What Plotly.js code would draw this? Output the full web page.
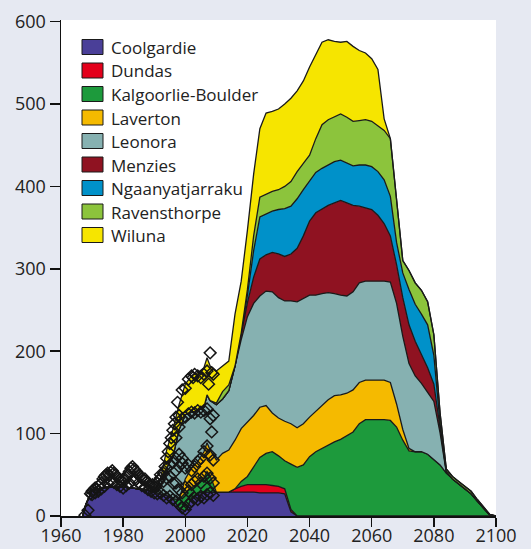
<!DOCTYPE html>
<html>
<head>
<meta charset="utf-8">
<script src="https://cdn.plot.ly/plotly-3.0.1.min.js"></script>
<style>html,body{margin:0;padding:0;background:#e6e9f2;}#chart{width:531px;height:549px;}</style>
</head>
<body>
<div id="chart"></div>
<script>
// ---- data ----
var years = [1967,1968,1970,1972,1975,1978,1980,1983,1985,1988,
  1990,1992,1994,1996,1998,2000,2002,2004,2006,2007,
  2008,2010,2012,2014,2016,2018,2020,2022,2024,2026,
  2028,2030,2032,2034,2036,2038,2040,2042,2044,2046,
  2048,2050,2052,2054,2056,2058,2060,2062,2064,2066,
  2068,2070,2072,2074,2076,2078,2080,2082,2084,2086,
  2088,2090,2092,2094,2096,2098,2100];

var names = ["Coolgardie","Dundas","Kalgoorlie-Boulder","Laverton","Leonora","Menzies","Ngaanyatjarraku","Ravensthorpe","Wiluna"];
var colors = ["#4a3f98","#e3001b","#1d9a3c","#f5ba00","#86b1b1","#8f1221","#0091c9","#8cc43c","#f6e500"];

var coolgardie = [0,14,31,33,35,36,35,34,33,31,
  29,27,25,21,10,6,22,28,29,29,
  29,29,29,29,29,29,29,29,28,28,
  28,28,27,5,0,0,0,0,0,0,
  0,0,0,0,0,0,0,0,0,0,
  0,0,0,0,0,0,0,0,0,0,
  0,0,0,0,0,0,0];
var dundas = [0,0,0,0,0,0,0,0,0,0,
  0,0,0,0,0,0,0,0,0,0,
  0,0,0,0,4,7,9,9,10,10,
  9,8,6,3,0,0,0,0,0,0,
  0,0,0,0,0,0,0,0,0,0,
  0,0,0,0,0,0,0,0,0,0,
  0,0,0,0,0,0,0];
var kalgoorlie = [0,0,0,0,0,0,0,0,0,0,
  0,0,0,0,10,22,12,11,17,25,
  20,0,0,0,0,6,10,22,33,38,
  41,37,34,55,59,62,72,78,82,87,
  90,93,97,102,112,117,117,117,117,116,
  108,92,79,78,78,75,68,62,52,45,
  39,33,27,18,9,1,0];
var laverton = [0,0,0,0,0,0,0,0,0,0,
  0,0,0,0,0,17,24,27,32,35,
  31,39,47,51,59,64,66,62,61,58,
  47,46,48,49,48,50,48,49,51,54,
  56,54,52,51,50,48,48,48,48,46,
  28,13,3,0,0,0,0,0,0,0,
  0,0,0,0,0,0,0];
var leonora = [0,0,0,0,0,0,0,0,0,0,
  0,18,33,51,85,78,68,62,54,58,
  60,67,66,72,90,108,128,136,135,139,
  147,146,146,149,153,152,148,141,137,130,
  124,121,118,119,121,120,120,120,120,122,
  122,113,103,92,83,75,71,39,1,0,
  0,0,0,0,0,0,0];
var menzies = [0,0,0,0,0,0,0,0,0,0,
  0,0,0,0,0,0,0,0,0,0,
  0,0,0,0,0,8,17,32,45,44,
  48,53,54,57,65,76,90,100,103,106,
  110,115,113,105,93,89,87,80,70,56,
  47,47,47,42,34,30,21,7,1,0,
  0,0,0,0,0,0,0];
var ngaanyatjarraku = [0,0,0,0,0,0,0,0,0,0,
  0,0,0,0,0,0,0,0,0,0,
  0,0,0,0,0,0,9,32,51,50,
  50,54,58,58,60,56,49,49,49,49,
  50,49,48,48,50,52,52,53,53,48,
  27,30,43,45,50,52,35,4,0,0,
  0,0,0,0,0,0,0];
var ravensthorpe = [0,0,0,0,0,0,0,0,0,0,
  0,0,0,0,0,0,0,0,0,0,
  0,2,9,7,0,0,7,18,24,24,
  24,24,27,30,33,32,31,41,53,55,
  55,56,56,54,54,55,55,56,60,70,
  53,15,23,26,29,28,25,13,3,3,
  3,3,3,2,2,1,0];
var wiluna = [0,0,0,0,0,0,0,0,0,0,
  0,0,22,33,30,37,44,46,48,45,
  42,39,31,29,63,63,72,75,83,98,
  97,98,100,101,98,100,107,102,100,97,
  91,87,92,91,85,81,76,68,14,0,
  0,0,0,0,0,0,0,0,0,0,
  0,0,0,0,0,0,0];

// historical observations (diamonds)
var histYears = [1967.7,1968.7,1969.5,1970,1970.5,1971,1971.5,1972,1972.5,1973,1973.5,1974,1974.5,1975,1975.5,1976,1976.5,1977,1977.5,1978,1978.5,1979,1979.5,1980,1980.5,1981,1981.5,1982,1982.5,1983,1983.5,1984,1984.5,1985,1985.5,1986,1986.5,1987,1987.5,1988,1988.5,1989,1989.5,1990,1990.5,1991,1991.5,1992,
  1970,1971,1972,1973,1974,1975,1976,1977,1978,1979,1980,1981,1982,1983,1984,1985,1986,1987,1988,1989,1990,1991,1992,1993,1994,1995,1996,1997,1998,1999,2000,2001,2002,2003,2004,2005,2006,2007,2008,2009,
  1993,1993.5,1994,1994.5,1995,1995.5,1996,1996.5,1997,1997.5,1998,1999,2000,2001,2002,2002.5,2003,2004,2005,2006,2007,2007.5,2008,2008.5,2009,
  1997,1998,1999,2000,2001,2002,2003,2004,2005,2006,2007,2008,2008.5,2009,
  1994,1995,1996,1997,1998,1999,2000,2001,2002,2003,2004,2005,2006,2007,2008,2009,
  1997,1998,1999,2000,2001,2002,2003,2004,2005,2006,2007,2008,2009,
  1992,1993,1994,1995,1996,1997,1998,1999];
var histValues = [1,7,27,30,32,34,33,36,38,40,45,48,50,52,49,53,55,52,50,48,46,44,42,45,43,47,50,54,58,60,57,55,53,50,48,46,44,45,42,40,38,36,38,36,35,40,43,46,
  26,28,30,33,36,40,42,41,38,36,34,37,40,43,44,40,37,35,32,30,28,27,28,25,22,24,20,18,14,10,8,14,18,22,20,24,22,26,28,25,
  52,60,70,78,88,95,104,112,120,138,122,153,155,166,170,168,172,170,168,172,176,160,198,174,172,
  95,108,118,120,124,126,125,128,126,128,130,118,102,122,
  58,62,65,55,60,64,58,62,55,60,66,70,78,85,74,68,
  40,32,28,35,30,38,42,45,40,48,52,46,40,
  50,42,46,48,40,70,75,70];

// ---- chart ----
var series = [coolgardie,dundas,kalgoorlie,laverton,leonora,menzies,ngaanyatjarraku,ravensthorpe,wiluna];
var traces = [];
for (var i = 0; i < series.length; i++) {
  traces.push({
    x: years, y: series[i], name: names[i], type: 'scatter', mode: 'lines',
    stackgroup: 'one', fillcolor: colors[i],
    line: {color: '#1a1a1a', width: 1.3},
    showlegend: false, hoverinfo: 'skip'
  });
}
traces.push({
  x: histYears, y: histValues, type: 'scatter', mode: 'markers', showlegend: false, hoverinfo: 'skip',
  marker: {symbol: 'diamond-open', size: 9, color: '#151515', line: {width: 1.5, color: '#151515'}}
});

// legend built from shapes + annotations (pixel -> paper conversion)
var L = 61, R = 496, T = 20, B = 516;
function px(x){ return (x - L) / (R - L); }
function py(y){ return (B - y) / (B - T); }
var shapes = [], annotations = [];
for (var j = 0; j < names.length; j++) {
  var cy = 47 + 23.5 * j;
  shapes.push({type: 'rect', xref: 'paper', yref: 'paper',
    x0: px(82), x1: px(103), y0: py(cy + 7.5), y1: py(cy - 7.5),
    fillcolor: colors[j], line: {color: '#1a1a1a', width: 1}});
  annotations.push({xref: 'paper', yref: 'paper', x: px(109), y: py(cy + 0.5),
    xanchor: 'left', yanchor: 'middle', showarrow: false, text: names[j],
    font: {family: 'Open Sans, Noto Sans, sans-serif', size: 17, color: '#222'}});
}

var layout = {
  width: 531, height: 549,
  margin: {l: L, r: 531 - R, t: T, b: 549 - B, pad: 0},
  paper_bgcolor: '#e6e9f2', plot_bgcolor: '#ffffff',
  showlegend: false,
  font: {family: 'Open Sans, Noto Sans, sans-serif', size: 18, color: '#222'},
  xaxis: {range: [1960, 2100], tickvals: [1960,1980,2000,2020,2040,2060,2080,2100],
    showline: true, linecolor: '#111', linewidth: 1.5, ticks: 'outside', ticklen: 9, tickwidth: 1.5, tickcolor: '#111',
    ticklabelstandoff: -6,
    showgrid: false, zeroline: false, tickfont: {size: 18, color: '#222'}},
  yaxis: {range: [0, 602], tickvals: [0,100,200,300,400,500,600],
    showline: true, linecolor: '#111', linewidth: 1.5, ticks: 'outside', ticklen: 10, tickwidth: 1.5, tickcolor: '#111',
    showgrid: false, zeroline: false, tickfont: {size: 18, color: '#222'}},
  shapes: shapes, annotations: annotations
};
Plotly.newPlot('chart', traces, layout, {displayModeBar: false, staticPlot: true});
</script>
</body>
</html>
